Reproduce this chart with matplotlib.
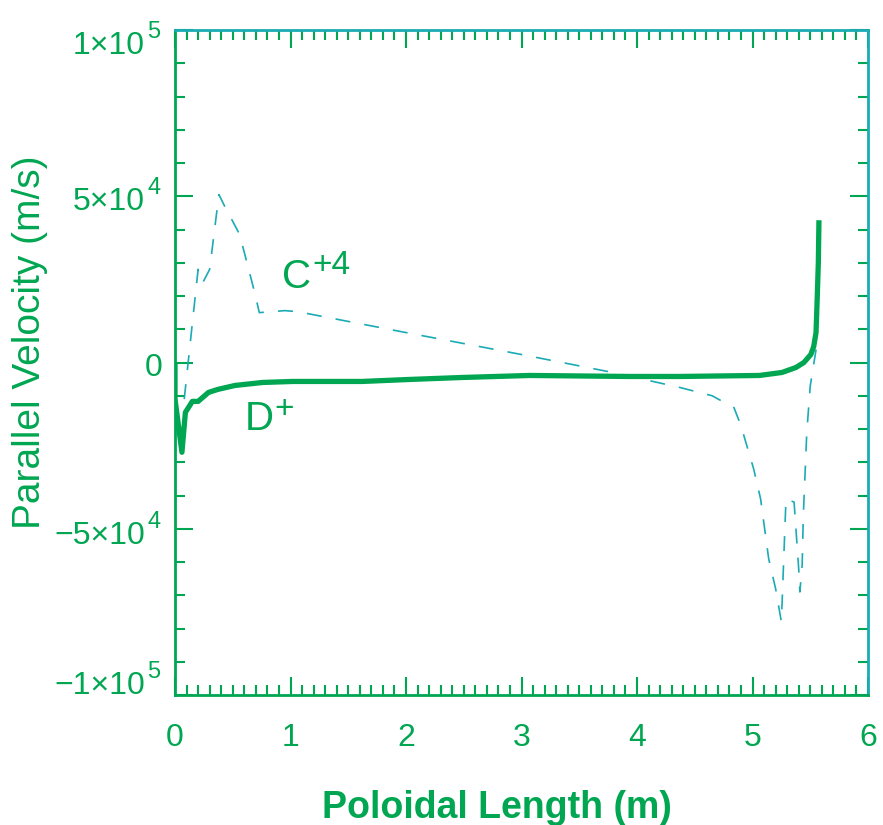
import matplotlib
matplotlib.use("Agg")
import matplotlib.pyplot as plt
from matplotlib.ticker import MultipleLocator, FixedLocator, NullFormatter

GREEN = "#00a651"
TEAL = "#1aabb5"

# D+ 평행 속도 (실선)
d_x = [0.0, 0.0, 0.06, 0.09, 0.15, 0.2, 0.29, 0.37, 0.52, 0.76, 1.02, 1.62,
       2.03, 2.49, 3.07, 3.93, 4.37, 5.06, 5.255, 5.376, 5.445, 5.505, 5.53,
       5.55, 5.56, 5.57, 5.575]
d_y = [-1e3, -1.1e4, -2.7e4, -1.5e4, -1.17e4, -1.17e4, -9e3, -8.1e3, -6.9e3,
       -6e3, -5.7e3, -5.7e3, -5.1e3, -4.5e3, -3.9e3, -4.2e3, -4.2e3, -3.9e3,
       -3e3, -1.5e3, 0, 2.4e3, 4.8e3, 9e3, 1.9e4, 3e4, 4.2e4]

# C+4 평행 속도 (점선)
c_x = [0.08, 0.2, 0.24, 0.3, 0.38, 0.43, 0.56, 0.69, 0.73, 0.95, 1.06, 2.0,
       3.0, 3.79, 4.37, 4.65, 4.84, 4.9, 5.01, 5.07, 5.14, 5.2, 5.25, 5.29,
       5.36, 5.4, 5.41, 5.43, 5.44, 5.47, 5.5, 5.56]
c_y = [-1.1e4, 2.8e4, 2.4e4, 2.8e4, 5.05e4, 4.7e4, 3.85e4, 2.1e4, 1.5e4,
       1.56e4, 1.53e4, 9e3, 2.4e3, -3e3, -7.5e3, -1.0e4, -1.36e4, -1.9e4,
       -3.2e4, -4.1e4, -5.9e4, -6.8e4, -7.8e4, -4.1e4, -4.2e4, -6.2e4,
       -6.9e4, -6.1e4, -4.6e4, -2.1e4, -7e3, 6e3]

# y 눈금: 값, 가수, 지수 (IDL식 "5x10^4" 라벨)
y_ticks = [-1e5, -5e4, 0, 5e4, 1e5]
y_mant = ["\u22121\u00d710", "\u22125\u00d710", "0", "5\u00d710", "1\u00d710"]
y_exp = ["5", "4", "", "4", "5"]
x_ticks = [0, 1, 2, 3, 4, 5, 6]

plt.rcParams["font.family"] = ["Liberation Sans", "DejaVu Sans"]
PX = 72 / 100  # px -> pt

fig = plt.figure(figsize=(8.83, 8.25), dpi=100)
ax = fig.add_axes([175 / 883, 130 / 825, 693 / 883, 665 / 825])

ax.plot(c_x, c_y, color=TEAL, lw=1.2, ls=(0, (9, 8.5)))
ax.plot(d_x, d_y, color=GREEN, lw=3.8, solid_joinstyle="round")

ax.set_xlim(0, 6)
ax.set_ylim(-1e5, 1e5)

ax.xaxis.set_major_locator(FixedLocator(x_ticks))
ax.xaxis.set_minor_locator(MultipleLocator(0.1))
ax.yaxis.set_major_locator(FixedLocator(y_ticks))
ax.yaxis.set_major_formatter(NullFormatter())
ax.yaxis.set_minor_locator(MultipleLocator(1e4))

ax.tick_params(which="both", direction="in", top=True, right=True,
               color=GREEN, labelcolor=GREEN, width=1.5)
ax.tick_params(which="major", length=13)
ax.tick_params(which="minor", length=7)
ax.tick_params(axis="x", pad=20, labelsize=23)

for side in ["left", "bottom"]:
    ax.spines[side].set_color(GREEN)
for side in ["top", "right"]:
    ax.spines[side].set_color(TEAL)
for s in ax.spines.values():
    s.set_linewidth(2)

# y 눈금 라벨 직접 배치 (위/아래 끝 라벨은 안쪽으로 조금 이동)
shift = [-12, 4, 2, 2.5, 12]  # px, 아래쪽이 +
cap = 23
for v, m, e, s in zip(y_ticks, y_mant, y_exp, shift):
    base = -(s + cap / 2)  # 본문 baseline (px, 위가 +)
    if e:
        ax.annotate(m, xy=(0, v), xycoords=("axes fraction", "data"),
                    xytext=(-30 * PX, base * PX), textcoords="offset points",
                    ha="right", va="baseline", fontsize=23, color=GREEN)
        ax.annotate(e, xy=(0, v), xycoords=("axes fraction", "data"),
                    xytext=(-28 * PX, (base + 16) * PX), textcoords="offset points",
                    ha="left", va="baseline", fontsize=17, color=GREEN)
    else:
        ax.annotate(m, xy=(0, v), xycoords=("axes fraction", "data"),
                    xytext=(-12 * PX, base * PX), textcoords="offset points",
                    ha="right", va="baseline", fontsize=23, color=GREEN)

ax.set_xlabel("Poloidal Length (m)", color=GREEN, fontsize=27, fontweight="bold")
ax.xaxis.set_label_coords(0.465, -0.143)
ax.set_ylabel("Parallel Velocity (m/s)", color=GREEN, fontsize=28)
ax.yaxis.set_label_coords(-0.183, 0.531)

ax.text(0.93, 2.57e4, "C", color=GREEN, fontsize=29, va="center", ha="left")
ax.text(1.19, 2.92e4, "+4", color=GREEN, fontsize=24, va="center", ha="left")
ax.text(0.605, -1.71e4, "D", color=GREEN, fontsize=29, va="center", ha="left")
ax.text(0.864, -1.41e4, "+", color=GREEN, fontsize=24, va="center", ha="left")

fig.savefig("out.png", dpi=100, facecolor="white")
